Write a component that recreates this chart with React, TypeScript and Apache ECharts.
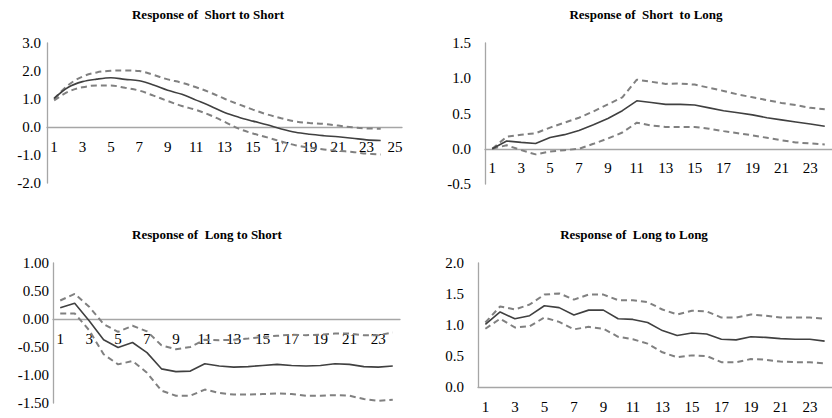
import React, { useEffect, useRef } from "react";
import * as echarts from "echarts";

const cats25 = Array.from({ length: 25 }, (_, i) => String(i + 1));
const cats24 = Array.from({ length: 24 }, (_, i) => String(i + 1));

const titles = [
  "Response of  Short to Short",
  "Response of  Short  to Long",
  "Response of  Long to Short",
  "Response of  Long to Long",
];

// Panel 1: Short to Short
const ssMid = [1.02, 1.42, 1.62, 1.71, 1.76, 1.7, 1.65, 1.5, 1.31, 1.17, 0.96, 0.75, 0.52, 0.35, 0.21, 0.08, -0.07, -0.19, -0.26, -0.31, -0.35, -0.4, -0.46, -0.48];
const ssUp = [1.0, 1.5, 1.8, 1.95, 2.01, 2.02, 2.0, 1.86, 1.7, 1.58, 1.42, 1.23, 1.01, 0.81, 0.62, 0.45, 0.31, 0.2, 0.14, 0.11, 0.05, -0.01, -0.05, -0.06];
const ssLo = [0.95, 1.26, 1.42, 1.48, 1.48, 1.4, 1.3, 1.12, 0.93, 0.75, 0.61, 0.42, 0.19, -0.06, -0.23, -0.37, -0.52, -0.65, -0.74, -0.8, -0.85, -0.89, -0.95, -0.98];

// Panel 2: Short to Long
const slMid = [0.0, 0.11, 0.09, 0.075, 0.16, 0.2, 0.26, 0.34, 0.43, 0.54, 0.68, 0.655, 0.63, 0.63, 0.62, 0.58, 0.54, 0.51, 0.48, 0.44, 0.41, 0.38, 0.35, 0.32];
const slUp = [0.0, 0.17, 0.2, 0.22, 0.3, 0.37, 0.44, 0.53, 0.63, 0.73, 0.98, 0.95, 0.92, 0.925, 0.91, 0.865, 0.82, 0.77, 0.73, 0.69, 0.65, 0.62, 0.58, 0.56];
const slLo = [0.0, 0.05, -0.02, -0.08, -0.04, -0.02, 0.0, 0.07, 0.145, 0.23, 0.37, 0.33, 0.31, 0.31, 0.31, 0.285, 0.25, 0.22, 0.19, 0.155, 0.12, 0.09, 0.075, 0.06];

// Panel 3: Long to Short
const lsMid = [0.2, 0.28, -0.03, -0.37, -0.51, -0.42, -0.6, -0.89, -0.94, -0.93, -0.8, -0.84, -0.86, -0.85, -0.83, -0.81, -0.83, -0.84, -0.83, -0.8, -0.81, -0.85, -0.86, -0.84];
const lsUp = [0.33, 0.45, 0.22, -0.09, -0.23, -0.12, -0.22, -0.47, -0.54, -0.5, -0.37, -0.38, -0.37, -0.35, -0.32, -0.3, -0.28, -0.29, -0.28, -0.26, -0.26, -0.29, -0.29, -0.24];
const lsLo = [0.1, 0.1, -0.2, -0.63, -0.81, -0.75, -0.96, -1.28, -1.37, -1.37, -1.26, -1.32, -1.35, -1.35, -1.34, -1.33, -1.34, -1.37, -1.37, -1.36, -1.37, -1.43, -1.46, -1.44];

// Panel 4: Long to Long
const llMid = [1.01, 1.21, 1.1, 1.15, 1.31, 1.28, 1.16, 1.24, 1.24, 1.1, 1.09, 1.04, 0.91, 0.83, 0.87, 0.855, 0.77, 0.76, 0.81, 0.8, 0.78, 0.77, 0.77, 0.74];
const llUp = [1.04, 1.3, 1.25, 1.33, 1.49, 1.51, 1.41, 1.49, 1.49, 1.4, 1.4, 1.37, 1.25, 1.17, 1.23, 1.22, 1.12, 1.12, 1.17, 1.15, 1.12, 1.12, 1.12, 1.1];
const llLo = [0.94, 1.1, 0.96, 0.98, 1.12, 1.05, 0.93, 0.97, 0.94, 0.81, 0.77, 0.7, 0.56, 0.48, 0.51, 0.5, 0.4, 0.4, 0.45, 0.44, 0.41, 0.4, 0.4, 0.38];

const SERIF = '"Liberation Serif", "DejaVu Serif", serif';

export default function App() {
  const ref = useRef<HTMLDivElement>(null);
  useEffect(() => {
    if (!ref.current) return;
    const chart = echarts.init(ref.current, undefined, { renderer: "svg" });
    const axisColor = "#a6a6a6";
    const grids = [
      { left: 47, top: 43, width: 355, height: 140 },
      { left: 485, top: 43, width: 355, height: 141 },
      { left: 53, top: 263, width: 347, height: 140 },
      { left: 478, top: 263, width: 362, height: 124 },
    ];
    const xCats = [cats25, cats24, cats24, cats24];
    const yCfg = [
      { min: -2, max: 3, interval: 1, dec: 1, margin: 6 },
      { min: -0.5, max: 1.5, interval: 0.5, dec: 1, margin: 14 },
      { min: -1.5, max: 1, interval: 0.5, dec: 2, margin: 4 },
      { min: 0, max: 2, interval: 0.5, dec: 1, margin: 14 },
    ];
    const data = [
      [ssUp, ssMid, ssLo],
      [slUp, slMid, slLo],
      [lsUp, lsMid, lsLo],
      [llUp, llMid, llLo],
    ];
    const series: any[] = [];
    data.forEach((trip, gi) => {
      trip.forEach((arr, k) => {
        const dashed = k !== 1;
        series.push({
          type: "line",
          xAxisIndex: gi,
          yAxisIndex: gi,
          data: arr,
          symbol: "none",
          smooth: gi === 0 ? 0.35 : false,
          z: dashed ? 3 : 4,
          lineStyle: dashed
            ? { color: "#808080", width: 2, type: [6, 4] }
            : { color: "#404040", width: 1.6, type: "solid" },
        });
      });
    });
    // offset of zero line from bottom of each grid (x axis sits on zero)
    const zeroOffset = grids.map((g, i) => {
      const c = yCfg[i];
      return -(g.height * (0 - c.min)) / (c.max - c.min);
    });
    const titlePos = [
      [208, 14],
      [646, 14],
      [207, 234],
      [634, 234],
    ];
    chart.setOption({
      animation: false,
      backgroundColor: "#ffffff",
      grid: grids,
      xAxis: grids.map((_, i) => ({
        type: "category",
        gridIndex: i,
        data: xCats[i],
        boundaryGap: true,
        position: "bottom",
        offset: zeroOffset[i],
        axisLine: { show: true, onZero: false, lineStyle: { color: axisColor, width: 1.3 } },
        axisTick: { show: false },
        axisLabel: {
          interval: 1,
          margin: 12,
          color: "#000",
          fontFamily: SERIF,
          fontSize: 15,
        },
        splitLine: { show: false },
      })),
      yAxis: yCfg.map((c, i) => ({
        type: "value",
        gridIndex: i,
        min: c.min,
        max: c.max,
        interval: c.interval,
        axisLine: { show: true, onZero: false, lineStyle: { color: axisColor, width: 1.3 } },
        axisTick: { show: false },
        splitLine: { show: false },
        axisLabel: {
          margin: c.margin,
          color: "#000",
          fontFamily: SERIF,
          fontSize: 15,
          formatter: (v: number) => v.toFixed(c.dec),
        },
      })),
      series,
      graphic: titles.map((t, i) => ({
        type: "text",
        x: titlePos[i][0],
        y: titlePos[i][1],
        style: {
          text: t,
          fill: "#000",
          font: `bold 13px ${SERIF}`,
          textAlign: "center",
          textVerticalAlign: "middle",
        },
      })),
    });
    return () => chart.dispose();
  }, []);
  return (
    <div
      ref={ref}
      style={{ position: "fixed", left: 0, top: 0, width: 832, height: 418, background: "#fff" }}
    />
  );
}
